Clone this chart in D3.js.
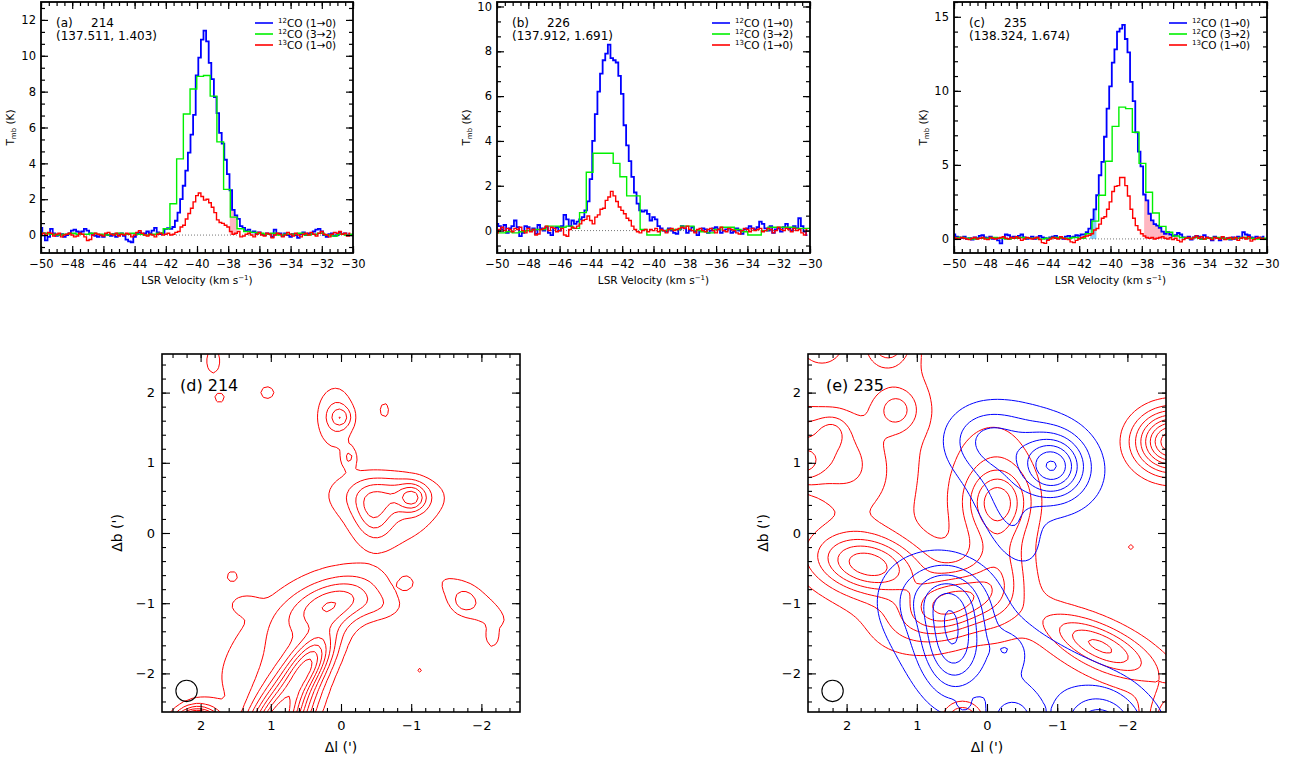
<!DOCTYPE html>
<html><head><meta charset="utf-8">
<script src="https://cdn.jsdelivr.net/npm/d3@7"></script>
<style>
body{margin:0;background:#fff;}
text{font-family:"DejaVu Sans",sans-serif;fill:#000;}
</style></head>
<body><svg id="c" width="1294" height="759"></svg>
<script>
// ---------------- spectra data ----------------
// 12CO(1-0) and 13CO(1-0): channels starting at -50 km/s, width 1/6 km/s
const V_START = -50, V_STEP = 1/6;
// 12CO(3-2): channel width 0.43 km/s, start per panel
const G_STEP = 0.43;
const velTicks = [-50,-48,-46,-44,-42,-40,-38,-36,-34,-32,-30];

const aBlue = [0.4,0.1,-0.3,-0.1,0.35,0.1,-0.05,0.0,0.05,-0.1,
0.0,0.1,0.25,0.3,0.2,0.15,0.2,0.35,0.25,0.1,
0.0,-0.05,-0.1,0.0,-0.1,0.05,0.0,-0.05,0.05,-0.1,
0.0,0.1,-0.05,-0.25,-0.35,-0.4,-0.1,0.1,0.15,0.05,
0.1,0.2,0.1,0.25,0.4,0.15,0.05,0.1,0.35,0.38,
0.35,0.45,0.8,1.25,2.0,2.75,3.6,4.6,5.6,6.7,
8.9,9.9,10.9,11.4,10.8,9.6,8.7,7.7,6.8,5.7,
5.1,4.2,3.4,2.5,1.4,1.1,0.9,0.5,0.4,0.25,
0.3,0.15,0.2,0.1,0.15,0.05,0.0,0.1,0.05,-0.1,
0.3,0.05,0.1,-0.05,0.1,0.0,-0.1,0.05,0.0,-0.15,
0.05,0.15,0.0,0.1,0.05,0.2,0.3,0.35,0.2,0.0,
-0.1,0.05,0.1,-0.05,0.0,0.15,0.05,0.1,0.0,0.05];
const aRed = [0.05,0.1,0.0,0.15,0.1,-0.05,0.05,0.1,-0.1,0.0,
0.05,0.1,0.0,-0.1,-0.05,0.1,0.05,-0.1,-0.3,-0.25,
0.0,0.1,0.05,0.0,-0.05,0.1,0.15,0.05,0.0,0.1,
-0.05,0.05,0.0,0.1,0.05,-0.1,0.0,0.15,0.25,0.1,
0.0,-0.05,0.05,0.0,-0.1,0.05,0.1,0.0,0.05,0.1,
0.0,0.05,0.15,0.2,0.45,0.55,0.9,1.2,1.5,1.85,
2.2,2.35,2.15,1.95,2.0,1.8,1.55,1.25,0.85,0.7,
0.65,0.55,0.45,0.2,0.05,0.1,0.2,-0.1,-0.05,0.05,
0.1,0.0,-0.1,0.05,0.15,0.0,-0.05,0.1,0.05,-0.15,
0.0,0.1,0.05,-0.1,0.0,0.15,0.05,-0.05,0.1,0.0,
-0.1,0.05,0.1,0.0,0.15,0.05,-0.05,0.1,0.2,0.05,
0.0,-0.1,0.05,0.15,0.1,0.2,0.05,0.1,-0.05,0.1];
const aGreenStart = -50.12;
const aGreen = [0.05,0.1,0.05,0.0,0.05,0.1,0.05,0.05,0.1,0.05,0.0,0.05,0.1,0.05,0.1,0.05,0.0,
0.05,0.1,0.35,1.75,4.25,6.75,8.15,8.85,8.9,7.75,5.2,2.55,1.0,0.35,0.2,
0.15,0.1,0.05,0.1,0.0,0.05,0.05,0.1,0.0,0.05,0.1,0.0,-0.05,0.05,0.0,0.05];

const bBlue = [0.3,0.2,0.05,0.25,-0.1,0.1,0.2,0.45,0.15,-0.25,
-0.1,0.2,0.15,0.0,0.1,-0.15,0.25,0.1,0.0,0.15,
-0.1,-0.2,0.1,0.15,0.0,0.2,0.7,0.5,0.2,0.45,
0.3,0.4,0.5,0.6,0.9,1.3,2.3,4.0,5.2,6.2,
7.0,7.6,7.9,8.3,7.7,7.6,7.5,6.9,6.1,4.7,
3.8,3.1,2.4,1.7,1.2,0.9,0.85,0.9,0.75,0.45,
0.6,0.5,0.2,0.1,0.0,-0.05,0.1,0.0,-0.1,-0.15,
0.05,0.2,0.1,-0.1,0.0,0.15,-0.05,-0.2,0.0,0.1,
0.05,-0.1,0.0,0.1,0.15,0.05,-0.1,0.0,0.05,0.1,
-0.1,-0.05,0.1,0.0,-0.15,0.05,0.1,0.2,0.1,0.05,
0.15,0.4,0.3,0.1,0.0,0.2,-0.1,0.05,0.1,-0.05,
0.15,0.3,0.1,0.0,0.2,0.1,0.55,0.2,-0.05,-0.2];
const bRed = [-0.1,0.05,0.15,0.0,0.1,0.05,-0.05,0.1,0.05,0.15,
0.0,-0.1,0.1,-0.05,0.05,-0.2,-0.15,0.05,0.1,0.2,
0.0,0.15,0.1,-0.05,0.0,0.1,-0.2,-0.25,0.05,0.15,
0.1,0.2,0.3,0.45,0.5,0.65,0.45,0.3,0.6,0.7,
0.95,1.0,1.35,1.5,1.75,1.55,1.3,1.05,0.9,0.75,
0.55,0.45,0.2,0.05,-0.05,-0.1,0.0,0.05,-0.05,0.05,
0.0,0.1,-0.05,0.05,0.0,-0.1,0.05,0.1,0.0,0.05,
0.1,0.15,0.1,0.2,0.05,0.0,-0.1,0.05,0.1,0.0,
-0.05,0.05,0.1,0.0,-0.1,0.05,0.15,0.0,-0.05,0.1,
0.05,0.0,-0.1,-0.15,0.0,0.1,0.05,-0.05,0.1,0.0,
0.05,0.1,-0.05,0.0,0.1,0.05,-0.1,0.0,0.15,0.05,
0.0,0.1,0.05,-0.05,0.1,0.0,0.05,-0.1,-0.2,0.05];
const bGreenStart = -50.1;
const bGreen = [-0.1,-0.1,-0.05,-0.1,-0.05,0.0,0.05,0.05,0.2,0.2,0.15,0.2,0.1,
0.8,2.6,3.45,3.45,3.45,3.0,2.4,1.55,1.55,0.05,-0.2,-0.2,
0.0,0.05,0.05,0.2,0.2,0.0,-0.05,-0.1,0.05,0.15,0.15,0.05,-0.05,-0.2,-0.2,0.0,0.15,0.15,0.15,0.15,0.1,0.1,0.1];

const cBlue = [0.3,0.15,0.1,0.05,0.15,0.0,0.05,-0.05,0.1,0.05,
0.2,0.25,0.1,0.05,0.15,0.0,0.05,-0.1,-0.3,0.05,
0.3,0.25,0.1,0.15,0.05,0.2,0.3,0.1,0.0,0.05,
0.15,0.0,0.1,0.2,0.1,0.05,0.0,0.1,0.15,0.2,
0.05,0.1,0.0,0.15,0.2,0.1,0.15,0.25,0.2,0.3,
0.3,0.45,0.7,1.3,2.0,2.95,4.3,5.2,6.9,8.8,
10.3,11.9,12.8,14.0,14.2,14.45,13.5,12.6,10.6,9.3,
7.2,5.9,4.9,3.0,2.6,1.7,1.25,1.0,0.9,0.75,
0.5,0.35,0.45,0.3,0.2,0.25,0.4,0.3,0.1,0.05,
0.15,-0.05,0.1,0.2,0.15,0.0,0.25,0.1,0.05,-0.1,
0.15,0.05,-0.1,0.1,0.0,0.05,-0.05,0.1,0.0,0.15,
0.05,0.45,0.3,0.25,0.1,0.05,0.15,0.05,0.1,0.15];
const cRed = [0.1,0.05,0.0,0.1,0.05,0.0,-0.05,0.05,0.1,0.0,
0.05,0.1,0.0,-0.05,0.1,0.05,0.0,0.05,0.1,0.15,
0.05,0.0,0.1,0.05,0.15,0.05,-0.1,0.0,0.1,0.05,
0.0,0.05,0.1,-0.05,-0.25,-0.3,-0.1,0.0,0.1,0.05,
0.0,0.15,0.05,0.0,-0.05,-0.2,-0.25,-0.1,0.0,0.1,
0.15,0.2,0.25,0.35,0.6,0.7,1.0,1.4,1.5,2.0,
2.5,3.2,3.55,3.6,4.15,4.15,3.6,2.9,2.0,1.4,
0.9,0.6,0.35,0.2,0.1,0.05,0.1,0.0,0.05,0.1,
0.15,0.05,0.0,0.1,-0.05,0.05,-0.1,-0.2,-0.05,0.05,
0.1,0.0,0.1,0.2,0.05,0.15,0.0,0.1,0.05,-0.05,
0.1,0.05,0.0,0.15,-0.05,0.05,0.1,0.0,0.1,-0.1,
0.05,0.1,0.0,0.15,-0.15,-0.05,0.05,0.1,0.0,0.05];
const cGreenStart = -50.0;
const cGreen = [0.05,0.1,0.05,0.0,0.05,0.05,0.1,0.05,0.0,0.05,0.1,0.05,0.05,0.0,0.05,0.1,0.05,0.05,0.1,0.05,
0.35,1.2,2.95,5.25,7.6,8.9,8.8,7.2,5.1,3.15,1.75,0.85,0.45,0.2,
0.1,0.05,0.1,0.0,0.05,0.1,0.05,0.0,0.05,0.1,0.05,0.0,0.05,0.05];

const lineNames = [["12","CO (1\u21920)"],["12","CO (3\u21922)"],["13","CO (1\u21920)"]];
const lineColors = ["#0000ff","#00f000","#ff0000"];

// ---------------- map data (model components: l, b, amplitude, sigma major, sigma minor, angle) ----------------
const mapTicks = [2,1,0,-1,-2];
const beamPos = [2.2,-2.25], beamRadius = 0.152;
const dLevels = [1,2,3,4,5,6,7,8,9,10,11,12,13,14];
const dL   = [0.95,0.45,0.8,0.1,-1.02,-0.75,-0.45,-0.6,0.0,0.08,-1.75,-1.9,2.05,1.55,-0.12,-0.62,1.73,1.05,-0.93,-2.15,-1.12,1.82,1.38,-0.6];
const dB   = [-2.75,-1.85,-1.5,-1.0,0.5,0.55,0.25,0.32,1.65,1.66,-0.98,-1.0,-2.88,-0.62,1.08,1.75,1.93,2.0,-0.72,-1.5,-1.95,2.45,-1.02,-1.05];
const dAmp = [10,5.5,2.0,3.6,3.0,2.5,2.2,1.3,2.0,2.2,1.4,1.5,25,1.6,1.8,1.6,1.6,1.7,1.3,1.6,1.3,1.9,1.3,1.1];
const dS1  = [0.55,0.35,0.95,0.45,0.13,0.45,0.26,0.7,0.1,0.32,0.12,0.55,0.19,0.07,0.1,0.1,0.07,0.09,0.07,0.1,0.05,0.15,0.15,0.25];
const dS2  = [0.25,0.17,0.45,0.22,0.13,0.2,0.18,0.36,0.1,0.2,0.12,0.2,0.19,0.07,0.07,0.06,0.07,0.08,0.07,0.06,0.05,0.08,0.1,0.15];
const dAng = [120,125,137,160,0,0,80,20,0,90,0,34,0,0,90,90,0,0,0,90,0,90,0,0];

const eRedLevels = [1,2,3,4,5,6,7,8,9,10];
const eRL  = [-0.15,-0.15,-0.15,0.5,0.55,1.7,1.8,1.55,2.2,1.28,2.65,1.4,2.4,-2.65,-1.6,-1.7,-2.75,0.35,-2.05,2.45];
const eRB  = [0.45,0.5,-0.45,-1.0,-1.1,-0.45,-0.35,1.9,1.45,1.75,0.97,2.7,2.75,1.3,-1.6,-1.7,-2.7,-2.7,-0.2,1.2];
const eRA  = [3.2,2.2,1.6,4.5,1.6,5.0,1.6,1.5,1.5,2.2,2.5,3.0,3.0,9,3.5,1.8,5,4,1.4,3.2];
const eRS1 = [0.28,0.75,0.6,0.45,0.8,0.5,0.9,1.0,0.15,0.2,0.2,0.2,0.25,0.36,0.5,0.9,0.3,0.18,0.05,0.75];
const eRS2 = [0.28,0.42,0.25,0.25,0.45,0.27,0.55,0.72,0.15,0.2,0.2,0.2,0.25,0.3,0.18,0.35,0.3,0.18,0.05,0.4];
const eRAng= [0,90,90,-20,-20,10,30,90,0,0,0,0,0,0,25,25,0,0,0,31];

const eBlueLevels = [1,2,3,4,5,6,7,8];
const eBL  = [-0.95,-0.6,0.05,-0.35,0.5,0.6,0.6,-1.0,-0.3,-0.35,0.33,-1.6];
const eBB  = [0.95,1.05,1.35,0.1,-1.55,-0.9,-1.3,-2.2,-1.65,-2.7,-2.45,-2.85];
const eBA  = [4.5,3.0,1.5,1.5,3.5,2.0,1.5,1.6,1.0,3.0,1.2,4.0];
const eBS1 = [0.28,0.7,0.35,0.5,0.5,0.4,0.9,1.6,0.15,0.25,0.06,0.35];
const eBS2 = [0.28,0.5,0.3,0.25,0.28,0.3,0.6,0.55,0.15,0.25,0.06,0.35];
const eBAng= [0,20,0,60,90,0,60,25,0,0,0,0];

// ---------------- drawing ----------------
const svg = d3.select("#c");
const fineV = i => V_START + i*V_STEP;

function drawSpectrum(p){
  const x = d3.scaleLinear().domain([-50,-30]).range([p.x0,p.x1]);
  const y = d3.scaleLinear().domain(p.yDom).range([p.y1,p.y0]);
  const g = svg.append("g");
  const cid = "clip"+p.id;
  g.append("clipPath").attr("id",cid).append("rect")
    .attr("x",p.x0).attr("y",p.y0).attr("width",p.x1-p.x0).attr("height",p.y1-p.y0);
  const plot = g.append("g").attr("clip-path",`url(#${cid})`);
  const blueData = p.blue.map((v,i)=>[fineV(i),v]);
  const redData = p.red.map((v,i)=>[fineV(i),v]);
  const greenData = p.green.map((v,k)=>[p.gStart + k*G_STEP, v]);
  p.fills.forEach((f,j)=>{
    const fid = cid+"f"+j;
    g.append("clipPath").attr("id",fid).append("rect")
      .attr("x",x(f.range[0])).attr("y",p.y0).attr("width",x(f.range[1])-x(f.range[0])).attr("height",p.y1-p.y0);
    plot.append("g").attr("clip-path",`url(#${fid})`).append("path")
      .datum(blueData)
      .attr("d",d3.area().curve(d3.curveStep).x(d=>x(d[0])).y0(y(0)).y1(d=>y(d[1])))
      .attr("fill",f.color).attr("stroke","none");
  });
  plot.append("line").attr("x1",p.x0).attr("x2",p.x1).attr("y1",y(0)).attr("y2",y(0))
    .attr("stroke","#777").attr("stroke-width",1).attr("stroke-dasharray","1,2");
  const line = d3.line().curve(d3.curveStep).x(d=>x(d[0])).y(d=>y(d[1]));
  plot.append("path").datum(blueData).attr("d",line).attr("fill","none").attr("stroke",lineColors[0]).attr("stroke-width",1.8);
  plot.append("path").datum(greenData).attr("d",line).attr("fill","none").attr("stroke",lineColors[1]).attr("stroke-width",1.4);
  plot.append("path").datum(redData).attr("d",line).attr("fill","none").attr("stroke",lineColors[2]).attr("stroke-width",1.4);

  const minorX = d3.range(-50,-29.99,0.5);
  const yMaj = d3.range(Math.ceil(p.yDom[0]/p.yStep)*p.yStep, p.yDom[1]+1e-9, p.yStep);
  const ms = p.yStep/p.yMinor;
  const yMin = d3.range(Math.ceil(p.yDom[0]/ms)*ms, p.yDom[1]+1e-9, ms);
  const fmt = d3.format("d");
  const mk = (axis, tr) => g.append("g").attr("transform",tr).call(axis).call(s=>s.select(".domain").remove());
  mk(d3.axisBottom(x).tickValues(velTicks).tickSize(-7).tickPadding(7).tickFormat(fmt), `translate(0,${p.y1})`);
  mk(d3.axisBottom(x).tickValues(minorX).tickSize(-4).tickFormat(""), `translate(0,${p.y1})`);
  mk(d3.axisTop(x).tickValues(velTicks).tickSize(-7).tickFormat(""), `translate(0,${p.y0})`);
  mk(d3.axisTop(x).tickValues(minorX).tickSize(-4).tickFormat(""), `translate(0,${p.y0})`);
  mk(d3.axisLeft(y).tickValues(yMaj).tickSize(-7).tickPadding(5).tickFormat(fmt), `translate(${p.x0},0)`);
  mk(d3.axisLeft(y).tickValues(yMin).tickSize(-4).tickFormat(""), `translate(${p.x0},0)`);
  mk(d3.axisRight(y).tickValues(yMaj).tickSize(-7).tickFormat(""), `translate(${p.x1},0)`);
  mk(d3.axisRight(y).tickValues(yMin).tickSize(-4).tickFormat(""), `translate(${p.x1},0)`);
  g.selectAll(".tick line").attr("stroke","#000").attr("stroke-width",1.2);
  g.selectAll(".tick text").attr("font-size",11.5).attr("font-family","DejaVu Sans").attr("fill","#000");
  g.append("rect").attr("x",p.x0).attr("y",p.y0).attr("width",p.x1-p.x0).attr("height",p.y1-p.y0)
    .attr("fill","none").attr("stroke","#000").attr("stroke-width",1.8);

  const xl = g.append("text").attr("x",(p.x0+p.x1)/2).attr("y",p.y1+31).attr("text-anchor","middle").attr("font-size",10.5);
  xl.append("tspan").text("LSR Velocity (km s");
  xl.append("tspan").attr("font-size",7).attr("dy",-4).text("\u22121");
  xl.append("tspan").attr("dy",4).text(")");
  const yl = g.append("text").attr("transform",`translate(${p.x0-27},${(p.y0+p.y1)/2}) rotate(-90)`)
    .attr("text-anchor","middle").attr("font-size",10.5);
  yl.append("tspan").text("T");
  yl.append("tspan").attr("font-size",7).attr("dy",2).text("mb");
  yl.append("tspan").attr("dy",-2).text(" (K)");

  g.append("text").attr("x",p.x0+15).attr("y",p.y0+25).attr("font-size",12).text(p.tag);
  g.append("text").attr("x",p.x0+50).attr("y",p.y0+25).attr("font-size",12).text(p.num);
  g.append("text").attr("x",p.x0+15).attr("y",p.y0+38).attr("font-size",12).text(p.coord);

  lineNames.forEach((nm,i)=>{
    const yy = p.y0 + 21 + i*11;
    g.append("line").attr("x1",p.x1-98).attr("x2",p.x1-80).attr("y1",yy).attr("y2",yy)
      .attr("stroke",lineColors[i]).attr("stroke-width",1.6);
    const t = g.append("text").attr("x",p.x1-75).attr("y",yy+4).attr("font-size",10.5);
    t.append("tspan").attr("font-size",7).attr("dy",-4).text(nm[0]);
    t.append("tspan").attr("dy",4).text(nm[1]);
  });
}

drawSpectrum({id:"a",x0:41,x1:353,y0:2,y1:253,yDom:[-1,13],yStep:2,yMinor:3,
  blue:aBlue,red:aRed,green:aGreen,gStart:aGreenStart,tag:"(a)",num:"214",coord:"(137.511, 1.403)",
  fills:[{range:[-37.9,-37.45],color:"#ffb6c1"}]});
drawSpectrum({id:"b",x0:497,x1:810,y0:2,y1:253,yDom:[-1,10.2],yStep:2,yMinor:3,
  blue:bBlue,red:bRed,green:bGreen,gStart:bGreenStart,tag:"(b)",num:"226",coord:"(137.912, 1.691)",
  fills:[]});
drawSpectrum({id:"c",x0:954,x1:1267,y0:2,y1:253,yDom:[-0.95,16],yStep:5,yMinor:5,
  blue:cBlue,red:cRed,green:cGreen,gStart:cGreenStart,tag:"(c)",num:"235",coord:"(138.324, 1.674)",
  fills:[{range:[-41.3,-40.9],color:"#87cefa"},{range:[-37.85,-36.3],color:"#ffb6c1"}]});

// ---------------- contour maps ----------------
function buildField(L,B,A,S1,S2,ANG,ext,step){
  const n = Math.round(2*ext/step)+1;
  const vals = new Float64Array(n*n);
  for(let k=0;k<n;k++){
    const b = ext - k*step;
    for(let j=0;j<n;j++){
      const l = ext - j*step;
      let s = 0;
      for(let c=0;c<L.length;c++){
        const dl = l-L[c], db = b-B[c];
        const t = ANG[c]*Math.PI/180, ct=Math.cos(t), st=Math.sin(t);
        const u = dl*ct + db*st, v = -dl*st + db*ct;
        s += A[c]*Math.exp(-(u*u)/(2*S1[c]*S1[c]) - (v*v)/(2*S2[c]*S2[c]));
      }
      vals[k*n+j] = s;
    }
  }
  return {n, vals};
}

function drawMap(p){
  const x = d3.scaleLinear().domain([2.55,-2.55]).range([p.x0,p.x1]);
  const y = d3.scaleLinear().domain([-2.55,2.55]).range([p.y1,p.y0]);
  const g = svg.append("g");
  const cid = "clip"+p.id;
  g.append("clipPath").attr("id",cid).append("rect")
    .attr("x",p.x0).attr("y",p.y0).attr("width",p.x1-p.x0).attr("height",p.y1-p.y0);
  const plot = g.append("g").attr("clip-path",`url(#${cid})`);
  const ext = 3.2;
  p.layers.forEach(layer=>{
    const f = buildField(layer.L,layer.B,layer.A,layer.S1,layer.S2,layer.ANG,ext,layer.step);
    const cs = d3.contours().size([f.n,f.n]).thresholds(layer.levels)(f.vals);
    const proj = d3.geoTransform({point(px,py){
      this.stream.point(x(ext-(px-0.5)*layer.step), y(ext-(py-0.5)*layer.step));
    }});
    const path = d3.geoPath(proj);
    plot.append("g").selectAll("path").data(cs).join("path")
      .attr("d",path).attr("fill","none").attr("stroke",layer.color).attr("stroke-width",1)
      .attr("stroke-linejoin","round");
  });
  g.append("circle").attr("cx",x(beamPos[0])).attr("cy",y(beamPos[1]))
    .attr("r",x(0)-x(beamRadius)).attr("fill","none").attr("stroke","#000").attr("stroke-width",1.1);
  const minor = d3.range(-2.4,2.41,0.2).map(v=>Math.round(v*10)/10);
  const fmt = d3.format("d");
  const mk = (axis, tr) => g.append("g").attr("transform",tr).call(axis).call(s=>s.select(".domain").remove());
  mk(d3.axisBottom(x).tickValues(mapTicks).tickSize(-8).tickPadding(9).tickFormat(fmt), `translate(0,${p.y1})`);
  mk(d3.axisBottom(x).tickValues(minor).tickSize(-4).tickFormat(""), `translate(0,${p.y1})`);
  mk(d3.axisTop(x).tickValues(mapTicks).tickSize(-8).tickFormat(""), `translate(0,${p.y0})`);
  mk(d3.axisTop(x).tickValues(minor).tickSize(-4).tickFormat(""), `translate(0,${p.y0})`);
  mk(d3.axisLeft(y).tickValues(mapTicks).tickSize(-8).tickPadding(7).tickFormat(fmt), `translate(${p.x0},0)`);
  mk(d3.axisLeft(y).tickValues(minor).tickSize(-4).tickFormat(""), `translate(${p.x0},0)`);
  mk(d3.axisRight(y).tickValues(mapTicks).tickSize(-8).tickFormat(""), `translate(${p.x1},0)`);
  mk(d3.axisRight(y).tickValues(minor).tickSize(-4).tickFormat(""), `translate(${p.x1},0)`);
  g.selectAll(".tick line").attr("stroke","#000").attr("stroke-width",1.1);
  g.selectAll(".tick text").attr("font-size",13).attr("font-family","DejaVu Sans").attr("fill","#000");
  g.append("rect").attr("x",p.x0).attr("y",p.y0).attr("width",p.x1-p.x0).attr("height",p.y1-p.y0)
    .attr("fill","none").attr("stroke","#000").attr("stroke-width",1.6);
  g.append("text").attr("x",(p.x0+p.x1)/2).attr("y",p.y1+40).attr("text-anchor","middle").attr("font-size",14).text("\u0394l (')");
  g.append("text").attr("transform",`translate(${p.x0-40},${(p.y0+p.y1)/2}) rotate(-90)`)
    .attr("text-anchor","middle").attr("font-size",14).text("\u0394b (')");
  g.append("text").attr("x",p.x0+18).attr("y",p.y0+37).attr("font-size",16).text(p.title);
}

drawMap({id:"d",x0:162,x1:520,y0:354,y1:712,title:"(d) 214",
  layers:[{L:dL,B:dB,A:dAmp,S1:dS1,S2:dS2,ANG:dAng,levels:dLevels,step:0.06,color:"#ff0000"}]});
drawMap({id:"e",x0:808,x1:1166,y0:354,y1:712,title:"(e) 235",
  layers:[{L:eRL,B:eRB,A:eRA,S1:eRS1,S2:eRS2,ANG:eRAng,levels:eRedLevels,step:0.05,color:"#ff0000"},
          {L:eBL,B:eBB,A:eBA,S1:eBS1,S2:eBS2,ANG:eBAng,levels:eBlueLevels,step:0.05,color:"#0000ff"}]});
</script></body></html>
